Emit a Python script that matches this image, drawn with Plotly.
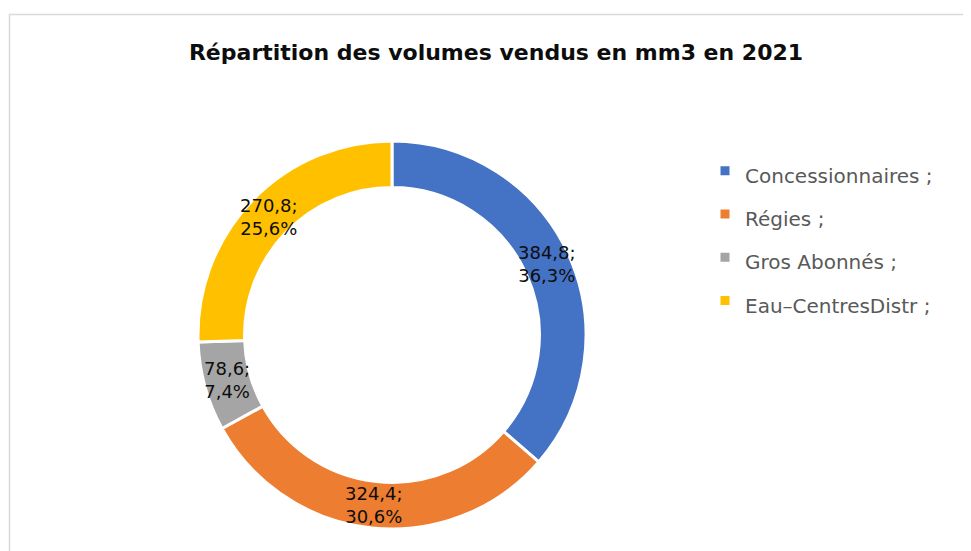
import plotly.graph_objects as go
import math

# ---- data ----
categories = ["Concessionnaires", "Régies", "Gros Abonnés", "Eau–CentresDistr"]
volumes = [384.8, 324.4, 78.6, 270.8]
colors = ["#4472C4", "#ED7D31", "#A5A5A5", "#FFC000"]

# ---- layout constants (pixels, in figure coordinates) ----
W, H = 971, 551
CX, CY, R = 384, 327, 194
HOLE = 0.76
FONT = "DejaVu Sans"

total = sum(volumes)
fracs = [v / total for v in volumes]


def fr(x, nd=1):
    return f"{x:.{nd}f}".replace(".", ",")


fig = go.Figure()
fig.add_trace(go.Pie(
    labels=[f"<span style='font-size:20px'>{c} ;</span>" for c in categories],
    values=volumes,
    sort=False,
    direction="clockwise",
    rotation=0,
    hole=HOLE,
    marker=dict(colors=colors, line=dict(color="white", width=3)),
    textinfo="none",
    hoverinfo="label+value+percent",
    domain=dict(x=[(CX - R) / W, (CX + R) / W], y=[1 - (CY + R) / H, 1 - (CY - R) / H]),
))

# data labels placed at the mid-angle of each slice, in the ring
rm = R * (1 + HOLE) / 2
cum = 0.0
annotations = []
for c, v, f in zip(categories, volumes, fracs):
    mid = (cum + f / 2) * 2 * math.pi
    cum += f
    px = CX + rm * math.sin(mid)
    py = CY - rm * math.cos(mid)
    annotations.append(dict(
        x=px / W, y=1 - py / H, xref="paper", yref="paper",
        text=f"{fr(v)};<br>{fr(f * 100)}%", showarrow=False,
        font=dict(family=FONT, size=18, color="#0d0d0d"),
        xanchor="center", yanchor="middle", align="center",
    ))

fig.update_layout(
    width=W, height=H,
    margin=dict(l=0, r=0, t=0, b=0),
    paper_bgcolor="white",
    plot_bgcolor="white",
    title=dict(
        text="<b>Répartition des volumes vendus en mm3 en 2021</b>",
        x=488 / W, y=1 - 44 / H, xanchor="center", yanchor="middle",
        xref="paper", yref="paper",
        font=dict(family=FONT, size=22, color="#0d0d0d"),
    ),
    legend=dict(
        x=(737 - 40) / W, y=1 - 136 / H, xanchor="left", yanchor="top",
        font=dict(family=FONT, size=31, color="#595959"),
        bgcolor="rgba(0,0,0,0)",
    ),
    annotations=annotations,
    shapes=[dict(
        type="rect", xref="paper", yref="paper",
        x0=1.5 / W, x1=1.05, y0=-0.05, y1=1 - 6.5 / H,
        line=dict(color="#d9d9d9", width=1.5), fillcolor="rgba(0,0,0,0)",
        layer="below",
    )],
)

fig.write_html("out.html")
